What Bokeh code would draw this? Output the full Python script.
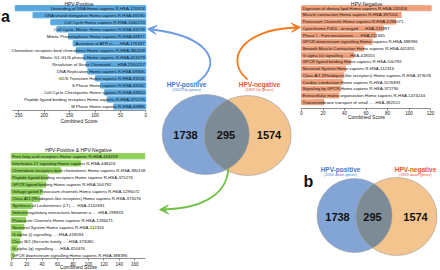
import numpy as np
from bokeh.plotting import figure
from bokeh.models import Range1d, LinearAxis, FixedTicker, Arrow, VeeHead
from bokeh.core.properties import value
from bokeh.embed import file_html
from bokeh.resources import INLINE

# ---------------- data ----------------
pos_terms = [
    "Unwinding of DNA Homo sapiens R-HSA-176974",
    "DNA strand elongation Homo sapiens R-HSA-69190",
    "Cell Cycle Homo sapiens R-HSA-1640170",
    "Cell Cycle, Mitotic Homo sapiens R-HSA-69278",
    "Mitotic Prometaphase Homo sapiens R-HSA-68877",
    "Activation of ATR in ... -HSA-176187",
    "Chemokine receptors bind chemokines Homo sapiens R-HSA-380108",
    "Mitotic G1-G1/S phases Homo sapiens R-HSA-453279",
    "Resolution of Sister Chromatid ... -HSA-2500257",
    "DNA Replication Homo sapiens R-HSA-69306",
    "G1/S Transition Homo sapiens R-HSA-69206",
    "S Phase Homo sapiens R-HSA-69242",
    "Cell Cycle Checkpoints Homo sapiens R-HSA-69620",
    "Peptide ligand-binding receptors Homo sapiens R-HSA-375276",
    "M Phase Homo sapiens R-HSA-68886",
]
pos_scores = [257, 222, 187, 175, 152, 143, 137, 122, 117, 114, 99, 89, 81, 76, 63]
pos_ticks = [0, 50, 100, 150, 200, 250]

neg_terms = [
    "Digestion of dietary lipid Homo sapiens R-HSA-192456",
    "Muscle contraction Homo sapiens R-HSA-397014",
    "Potassium Channels Homo sapiens R-HSA-1296071",
    "Cytochrome P450 - arranged ... -HSA-211897",
    "Phase I - Functionalization ... -HSA-211945",
    "GPCR downstream signalling Homo sapiens R-HSA-388396",
    "Smooth Muscle Contraction Homo sapiens R-HSA-445355",
    "G alpha (s) signalling ... -HSA-418555",
    "GPCR ligand binding Homo sapiens R-HSA-500792",
    "Neuronal System Homo sapiens R-HSA-112316",
    "Class A/1 (Rhodopsin-like receptors) Homo sapiens R-HSA-373076",
    "Cardiac conduction Homo sapiens R-HSA-5576891",
    "Signaling by GPCR Homo sapiens R-HSA-372790",
    "Extracellular matrix organization Homo sapiens R-HSA-1474244",
    "Transmembrane transport of small ... -HSA-382551",
]
neg_scores = [120.6, 92.7, 87.4, 76.0, 68.8, 65.7, 58.0, 48.7, 45.6, 41.0, 39.4, 37.8, 36.3, 34.7, 20.8]
neg_ticks = [0, 20, 40, 60, 80, 100, 120]

both_terms = [
    "Free fatty acid receptors Homo sapiens R-HSA-444209",
    "Interleukin-17 signaling Homo sapiens R-HSA-448424",
    "Chemokine receptors bind chemokines Homo sapiens R-HSA-380108",
    "Peptide ligand-binding receptors Homo sapiens R-HSA-375276",
    "GPCR ligand binding Homo sapiens R-HSA-500792",
    "Voltage gated Potassium channels Homo sapiens R-HSA-1296072",
    "Class A/1 (Rhodopsin-like receptors) Homo sapiens R-HSA-373076",
    "Synthesis of Leukotrienes (LT) ... -HSA-2142691",
    "Immunoregulatory interactions between a ... -HSA-198933",
    "Potassium Channels Homo sapiens R-HSA-1296071",
    "Neuronal System Homo sapiens R-HSA-112316",
    "G alpha (i) signalling ... -HSA-418594",
    "Class B/2 (Secretin family ... -HSA-373080",
    "G alpha (q) signalling ... -HSA-416476",
    "GPCR downstream signalling Homo sapiens R-HSA-388396",
]
both_scores = [173, 89.7, 63.8, 46.6, 44.4, 40.1, 37.0, 27.2, 20.7, 18.5, 16.3, 12.9, 11.1, 7.8, 3.4]
both_ticks = [0, 20, 40, 60, 80, 100, 120, 140, 160]

chart_titles = ["HPV-Positive", "HPV-Negative", "HPV-Positive & HPV-Negative"]
axis_title = "Combined Score"

venn_names = ["HPV-positive", "HPV-negative"]
venn_a_sub = ["(2050 Up genes)", "(1869 Up genes)"]
venn_b_sub = ["(2050 down genes)", "(1869 down genes)"]
venn_counts = [1738, 295, 1574]

# ---------------- canvas ----------------
W, H = 440, 270
FONT = "Liberation Sans"
F = value(FONT)

p = figure(width=W, height=H, x_range=Range1d(0, W), y_range=Range1d(H, 0),
           output_backend="svg", toolbar_location=None, min_border=0,
           x_axis_type=None, y_axis_type=None, background_fill_color="white",
           border_fill_color="white")
p.outline_line_color = None

# chart placement: (px of value 0, px per unit, y px of first bar, y px step)
charts = {
    "pos": (145.3, -0.508, 7.7, 7.02),
    "neg": (301.0, 1.075, 7.7, 6.71),
    "both": (10.7, 0.7725, 155.7, 7.09),
}
exx, exy = {}, {}
for k, (x0, sx, y0, dy) in charts.items():
    exx[k] = Range1d((0 - x0) / sx, (W - x0) / sx)
    exy[k] = Range1d((H - y0) / dy, (0 - y0) / dy)
p.extra_x_ranges = exx
p.extra_y_ranges = exy


def bar_chart(k, terms, scores, ticks, color, axis_y, bounds, align):
    idx = list(range(len(terms)))
    p.hbar(y=idx, left=0, right=scores, height=0.74, color=color,
           x_range_name=k, y_range_name=k)
    p.text(x=[0] * len(terms), y=idx, text=terms, x_range_name=k, y_range_name=k,
           x_offset=-1 if align == "right" else 1, text_align=align,
           text_baseline="middle", text_font=F, text_font_size="4.3px",
           text_color="#111111")
    ax = LinearAxis(x_range_name=k, fixed_location=axis_y, bounds=bounds,
                    ticker=FixedTicker(ticks=ticks, minor_ticks=[]),
                    major_label_text_font_size="4.5px", major_label_text_font=FONT,
                    major_label_text_color="#222222",
                    major_tick_out=2, major_tick_in=0, minor_tick_out=0, minor_tick_in=0,
                    axis_line_width=0.6, axis_line_color="#444444",
                    major_tick_line_width=0.6, major_tick_line_color="#444444",
                    major_label_standoff=1)
    p.add_layout(ax, "below")


bar_chart("pos", pos_terms, pos_scores, pos_ticks, "#5aa8df", 109.5, (0, 263), "right")
bar_chart("neg", neg_terms, neg_scores, neg_ticks, "#f0a17c", 107.5, (0, 120), "left")
bar_chart("both", both_terms, both_scores, both_ticks, "#8fd15a", 258.3, (0, 174), "left")

# chart titles and axis titles
p.text(x=[78.5, 366, 78], y=[3.5, 3.5, 149.5], text=chart_titles, text_font=F,
       text_font_size="5px", text_align="center", text_baseline="middle",
       text_color="#222222")
p.text(x=[78.5, 366, 78], y=[120.5, 116, 266.8], text=[axis_title] * 3, text_font=F,
       text_font_size="5px", text_align="center", text_baseline="middle",
       text_color="#222222")

# ---------------- Venn diagrams ----------------
BLUE, ORANGE, LENS = "#82a5d6", "#f4c48e", "#7d8b97"


def lens(c1, c2):
    (x1, y1, w1, h1), (x2, y2, w2, h2) = c1, c2
    t = np.linspace(-np.pi, np.pi, 1441)
    bx = x1 + w1 / 2 * np.cos(t)
    by = y1 + h1 / 2 * np.sin(t)
    in2 = ((bx - x2) / (w2 / 2)) ** 2 + ((by - y2) / (h2 / 2)) ** 2 <= 1
    t2 = np.linspace(0, 2 * np.pi, 1441)
    ox = x2 + w2 / 2 * np.cos(t2)
    oy = y2 + h2 / 2 * np.sin(t2)
    in1 = ((ox - x1) / (w1 / 2)) ** 2 + ((oy - y1) / (h1 / 2)) ** 2 <= 1
    return (np.concatenate([bx[in2], ox[in1]]), np.concatenate([by[in2], oy[in1]]))


def venn(c1, c2, num_x, num_y, size):
    p.ellipse(x=c1[0], y=c1[1], width=c1[2], height=c1[3], fill_color=BLUE, line_color=None)
    p.ellipse(x=c2[0], y=c2[1], width=c2[2], height=c2[3], fill_color=ORANGE, line_color=None)
    lx, ly = lens(c1, c2)
    p.patch(lx, ly, fill_color=LENS, line_color=None)
    for c in (c1, c2):
        p.ellipse(x=c[0], y=c[1], width=c[2], height=c[3], fill_color=None,
                  line_color="#9b9b9b", line_width=0.6)
    p.text(x=num_x, y=[num_y] * 3, text=[str(v) for v in venn_counts], text_font=F,
           text_font_size=size, text_font_style="bold", text_align="center",
           text_baseline="middle", text_color="#111111")


venn((205.2, 134, 87, 80), (247.2, 135, 87, 80), [185, 225.5, 268.5], 134.5, "11px")
venn((354, 215, 75, 74), (396, 216, 81, 78), [337, 372, 415], 216.5, "11px")

# Venn labels
def venn_labels(xs, y, subs):
    p.text(x=xs, y=[y, y], text=venn_names, text_font=F, text_font_size="6.5px",
           text_font_style="bold", text_align="center", text_baseline="middle",
           text_color=["#4a79c9", "#e85a2c"])
    p.text(x=xs, y=[y + 5.6, y + 5.6], text=subs, text_font=F, text_font_size="3.8px",
           text_align="center", text_baseline="middle",
           text_color=["#4a79c9", "#e85a2c"])

venn_labels([186, 259], 84, venn_a_sub)
venn_labels([340, 415], 169, venn_b_sub)

# panel letters
p.text(x=[0.5, 303], y=[15.5, 180.5], text=["a", "b"], text_font=F, text_font_size="16px",
       text_font_style="bold", text_baseline="alphabetic", text_color="#111111")

# ---------------- curved arrows ----------------
def curved(P0, P1, P2, P3, color):
    p.bezier(x0=P0[0], y0=P0[1], x1=P3[0], y1=P3[1], cx0=P1[0], cy0=P1[1],
             cx1=P2[0], cy1=P2[1], line_color=color, line_width=1.8)
    d = np.array(P3, float) - np.array(P2, float)
    d = d / np.hypot(*d)
    e = np.array(P3, float) + 5 * d
    p.add_layout(Arrow(end=VeeHead(size=9, fill_color=color, line_color=color, line_width=1),
                       x_start=P3[0], y_start=P3[1], x_end=float(e[0]), y_end=float(e[1]),
                       line_color=color, line_width=1.8))

curved((197, 82), (224, 62), (208, 36), (152, 29), "#6b9be0")
curved((247, 79), (224, 60), (240, 29), (295, 27), "#f47a20")
curved((228, 168), (226, 198), (195, 208), (164, 209), "#74c044")

open("out.html", "w").write(file_html(p, INLINE))
